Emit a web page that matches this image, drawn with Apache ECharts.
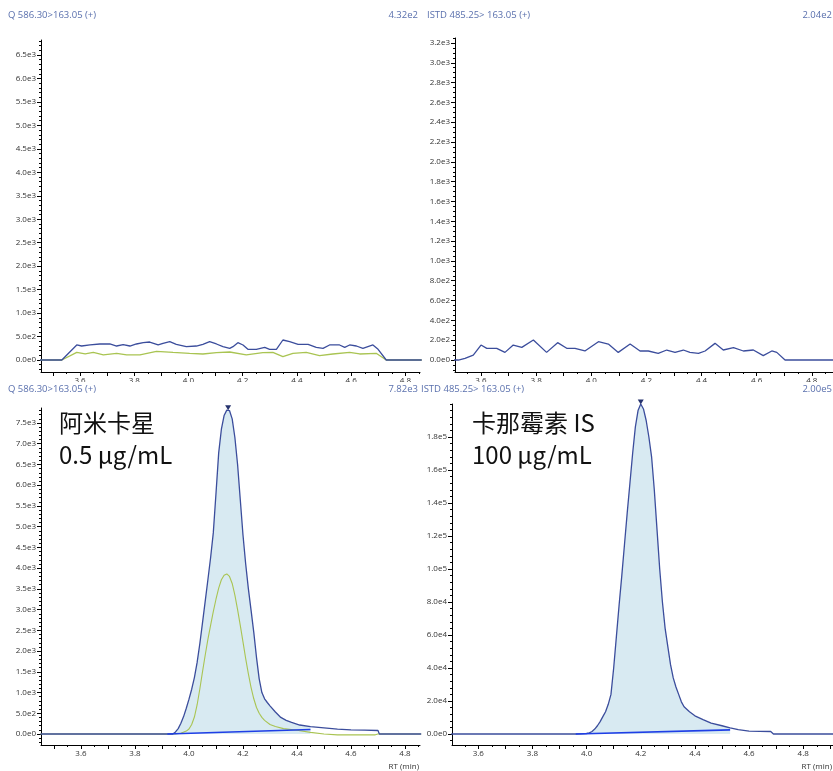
<!DOCTYPE html>
<html>
<head>
<meta charset="utf-8">
<script src="https://cdn.jsdelivr.net/npm/echarts@6.0.0/dist/echarts.min.js"></script>
</head>
<body style="margin:0; padding:0; background:#fff;">
<div id="chart" style="width:833px; height:771px;"></div>
<script type="text/javascript">
// ---------------- data: [RT (min), intensity] ----------------
// top left: quantifier + qualifier trace of the blank
const qBlankBlue = [[3.45,0],[3.533,0],[3.588,320],[3.606,298],[3.637,320],[3.673,341],[3.710,341],[3.735,298],[3.759,327],[3.784,298],[3.808,341],[3.833,369],[3.857,383],[3.888,320],[3.906,355],[3.931,390],[3.955,334],[3.992,284],[4.029,298],[4.053,334],[4.078,390],[4.103,341],[4.127,284],[4.152,249],[4.164,284],[4.182,369],[4.201,320],[4.219,227],[4.250,227],[4.281,270],[4.299,227],[4.324,227],[4.348,426],[4.373,390],[4.404,334],[4.441,334],[4.471,270],[4.496,249],[4.520,320],[4.557,320],[4.576,270],[4.594,320],[4.619,298],[4.643,249],[4.680,320],[4.699,227],[4.729,0],[4.86,0]];
const qBlankGreen = [[3.45,0],[3.533,0],[3.588,163],[3.619,128],[3.649,163],[3.686,107],[3.735,142],[3.772,107],[3.821,107],[3.882,185],[3.943,163],[4.004,142],[4.053,128],[4.103,156],[4.152,170],[4.213,107],[4.274,156],[4.311,163],[4.348,71],[4.385,142],[4.434,163],[4.483,92],[4.532,128],[4.594,163],[4.631,128],[4.692,142],[4.729,0],[4.86,0]];
// top right: internal standard trace of the blank
const istdBlank = [[3.50,0],[3.518,0],[3.542,17],[3.572,50],[3.600,151],[3.621,118],[3.657,118],[3.687,77],[3.717,151],[3.748,128],[3.790,202],[3.838,77],[3.878,175],[3.911,118],[3.941,118],[3.977,91],[4.026,185],[4.062,161],[4.098,77],[4.141,161],[4.177,91],[4.207,91],[4.243,67],[4.274,101],[4.304,77],[4.334,101],[4.358,77],[4.389,67],[4.413,91],[4.449,168],[4.479,101],[4.516,124],[4.552,91],[4.588,101],[4.624,44],[4.655,91],[4.673,77],[4.703,0],[4.88,0]];
// bottom left: amikacin 0.5 ug/mL
const qPeakBlue = [[3.45,0],[3.94,0],[3.95,50],[3.96,130],[3.97,260],[3.98,420],[3.99,620],[4.00,840],[4.01,1080],[4.02,1360],[4.03,1720],[4.04,2170],[4.05,2680],[4.06,3200],[4.07,3720],[4.08,4250],[4.09,4850],[4.10,5800],[4.11,6780],[4.12,7350],[4.13,7680],[4.14,7810],[4.145,7820],[4.15,7800],[4.16,7600],[4.17,7150],[4.18,6500],[4.19,5650],[4.20,4800],[4.21,4100],[4.22,3500],[4.23,2980],[4.24,2450],[4.25,1850],[4.26,1330],[4.27,1000],[4.28,850],[4.29,760],[4.30,680],[4.32,530],[4.34,400],[4.36,330],[4.38,280],[4.41,217],[4.45,180],[4.50,150],[4.55,120],[4.60,100],[4.65,95],[4.70,85],[4.705,0],[4.86,0]];
const qPeakGreen = [[3.45,0],[3.95,0],[3.97,20],[3.99,70],[4.00,120],[4.01,230],[4.02,410],[4.03,700],[4.04,1080],[4.05,1500],[4.06,1900],[4.07,2280],[4.08,2620],[4.09,2950],[4.10,3250],[4.11,3520],[4.12,3720],[4.13,3830],[4.14,3860],[4.15,3800],[4.16,3630],[4.17,3350],[4.18,3000],[4.19,2620],[4.20,2220],[4.21,1820],[4.22,1450],[4.23,1120],[4.24,850],[4.25,640],[4.26,500],[4.27,400],[4.28,330],[4.30,230],[4.32,180],[4.35,130],[4.40,90],[4.45,40],[4.50,0],[4.55,-20],[4.69,-20],[4.70,0],[4.86,0]];
const qPeakBase = [[3.92,0],[4.45,110]];
// bottom right: kanamycin IS 100 ug/mL
const istdPeak = [[3.50,0],[3.96,0],[3.98,100],[4.00,300],[4.01,700],[4.02,1500],[4.03,3000],[4.04,5000],[4.05,7500],[4.06,10500],[4.07,13500],[4.08,18000],[4.09,24000],[4.10,40000],[4.11,59000],[4.12,78000],[4.13,96000],[4.14,115000],[4.15,134000],[4.16,152000],[4.17,170000],[4.18,186000],[4.19,196000],[4.20,200000],[4.21,197000],[4.22,190000],[4.23,180000],[4.24,168000],[4.25,148000],[4.26,124000],[4.27,100000],[4.28,80000],[4.29,64000],[4.30,53000],[4.31,42000],[4.32,34000],[4.33,28500],[4.34,24000],[4.35,19500],[4.36,16500],[4.38,13500],[4.40,11000],[4.43,8700],[4.46,6600],[4.50,5000],[4.53,3700],[4.56,2600],[4.60,1800],[4.68,1500],[4.69,0],[4.91,0]];
const istdPeakBase = [[3.96,0],[4.53,2500]];

// tick labels
const rtTicks = [3.6, 3.8, 4.0, 4.2, 4.4, 4.6, 4.8];
const yTicksQBlank = [0,500,1000,1500,2000,2500,3000,3500,4000,4500,5000,5500,6000,6500];
const yTicksIstdBlank = [0,200,400,600,800,1000,1200,1400,1600,1800,2000,2200,2400,2600,2800,3000,3200];
const yTicksQPeak = [0,500,1000,1500,2000,2500,3000,3500,4000,4500,5000,5500,6000,6500,7000,7500];
const yTicksIstdPeak = [0,20000,40000,60000,80000,100000,120000,140000,160000,180000];

// ---------------- layout ----------------
const panels = [
  { grid: {left: 41, top: 40, width: 379, height: 332}, x: [3.4562, 4.8535], y: [-256, 6820], yTicks: yTicksQBlank, yMinor: 100 },
  { grid: {left: 455, top: 38, width: 378, height: 334}, x: [3.5057, 4.877], y: [-121, 3250], yTicks: yTicksIstdBlank, yMinor: 50 },
  { grid: {left: 41, top: 408, width: 379, height: 337}, x: [3.4519, 4.8556], y: [-265, 7862], yTicks: yTicksQPeak, yMinor: 100 },
  { grid: {left: 452, top: 404, width: 381, height: 341}, x: [3.5029, 4.910], y: [-6667, 200000], yTicks: yTicksIstdPeak, yMinor: 4000 }
];

const steps = (a, b, s) => {
  const out = [];
  for (let k = Math.ceil(a / s - 1e-9); k * s <= b + 1e-9; k++) out.push(+(k * s).toFixed(6));
  return out;
};
const fmtE = v => v.toExponential(1).replace('+', '');
const tickFont = { fontSize: 8, color: '#333', fontFamily: 'Open Sans' };

const grids = [], xAxes = [], yAxes = [];
panels.forEach((p, i) => {
  grids.push(Object.assign({ containLabel: false }, p.grid));
  // main x axis: labels + larger ticks
  xAxes.push({
    gridIndex: i, type: 'value', position: 'bottom', min: p.x[0], max: p.x[1],
    axisLine: { onZero: false, lineStyle: { color: '#000', width: 1 } },
    axisTick: { customValues: steps(p.x[0], p.x[1], 0.1), length: 4, lineStyle: { color: '#000' } },
    axisLabel: Object.assign({ customValues: rtTicks, formatter: v => v.toFixed(1), margin: 5 }, tickFont),
    splitLine: { show: false },
    name: i >= 2 ? 'RT (min)' : '',
    nameLocation: 'end', nameGap: -1,
    nameTextStyle: { fontSize: 8, color: '#333', fontFamily: 'Open Sans', align: 'right', verticalAlign: 'top', padding: [18, 0, 0, 0] }
  });
  // minor x ticks
  xAxes.push({
    gridIndex: i, type: 'value', position: 'bottom', min: p.x[0], max: p.x[1],
    axisLine: { show: false, onZero: false },
    axisTick: { customValues: steps(p.x[0], p.x[1], 0.05), length: 2, lineStyle: { color: '#000' } },
    axisLabel: { show: false }, splitLine: { show: false }
  });
  yAxes.push({
    gridIndex: i, type: 'value', position: 'left', min: p.y[0], max: p.y[1],
    axisLine: { show: true, onZero: false, lineStyle: { color: '#000', width: 1 } },
    axisTick: { customValues: p.yTicks, length: 4, lineStyle: { color: '#000' } },
    axisLabel: Object.assign({ customValues: p.yTicks, formatter: fmtE, margin: 5 }, tickFont),
    splitLine: { show: false }
  });
  yAxes.push({
    gridIndex: i, type: 'value', position: 'left', min: p.y[0], max: p.y[1],
    axisLine: { show: false, onZero: false },
    axisTick: { customValues: steps(p.y[0], p.y[1], p.yMinor), length: 2, lineStyle: { color: '#000' } },
    axisLabel: { show: false }, splitLine: { show: false }
  });
});

const navy = '#3b4d9c', green = '#a9c452', base = '#1f3fe6', fill = '#d8eaf2';
const lineS = (i, data, color, extra) => Object.assign({
  type: 'line', xAxisIndex: 2 * i, yAxisIndex: 2 * i, data: data,
  showSymbol: false, symbol: 'none', lineStyle: { color: color, width: 1.3 }, silent: true
}, extra || {});
const apexMark = {
  symbol: 'triangle', symbolRotate: 180, symbolSize: [6, 5], symbolOffset: [0, -2],
  itemStyle: { color: '#26336e' }, label: { show: false }, data: [{ type: 'max' }]
};
const areaOnly = { lineStyle: { width: 0 }, areaStyle: { color: fill, opacity: 1 } };

const series = [
  lineS(0, qBlankGreen, green),
  lineS(0, qBlankBlue, navy),
  lineS(1, istdBlank, navy),
  lineS(2, qPeakBlue.filter(d => d[0] >= 3.93 && d[0] <= 4.45), fill, areaOnly),
  lineS(2, qPeakGreen, green, { lineStyle: { color: green, width: 1.1 } }),
  lineS(2, qPeakBlue, navy, { markPoint: apexMark }),
  lineS(2, qPeakBase, base, { lineStyle: { color: base, width: 1.6 } }),
  lineS(3, istdPeak.filter(d => d[0] >= 3.98 && d[0] <= 4.53), fill, areaOnly),
  lineS(3, istdPeak, navy, { markPoint: apexMark }),
  lineS(3, istdPeakBase, base, { lineStyle: { color: base, width: 1.6 } })
];

const hdrColor = '#5a70ad';
const txt = (x, y, text, align, size, color, family) => ({
  type: 'text', x: x, y: y, z: 101,
  style: { text: text, fill: color || hdrColor, font: (size || 9.5) + 'px ' + (family || '"Open Sans"'), align: align || 'left', verticalAlign: 'middle' }
});
const cjk = '"Noto Sans CJK SC", "Noto Sans"';

const option = {
  animation: false,
  backgroundColor: '#fff',
  grid: grids, xAxis: xAxes, yAxis: yAxes, series: series,
  graphic: [
    // top row tick labels are cut off by the lower panels' headers
    { type: 'rect', z: 100, shape: { x: 0, y: 382, width: 833, height: 5 }, style: { fill: '#fff' } },
    txt(8, 15, 'Q 586.30>163.05 (+)'),
    txt(418, 15, '4.32e2', 'right'),
    txt(427, 15, 'ISTD 485.25> 163.05 (+)'),
    txt(832, 15, '2.04e2', 'right'),
    txt(8, 389, 'Q 586.30>163.05 (+)'),
    txt(418, 389, '7.82e3', 'right'),
    txt(421, 389, 'ISTD 485.25> 163.05 (+)'),
    txt(832, 389, '2.00e5', 'right'),
    txt(59, 423, '阿米卡星', 'left', 24, '#111', cjk),
    txt(59, 455, '0.5 μg/mL', 'left', 24, '#111', cjk),
    txt(472, 423, '卡那霉素 IS', 'left', 24, '#111', cjk),
    txt(472, 455, '100 μg/mL', 'left', 24, '#111', cjk)
  ]
};

var myChart = echarts.init(document.getElementById('chart'));
myChart.setOption(option);
</script>
</body>
</html>
